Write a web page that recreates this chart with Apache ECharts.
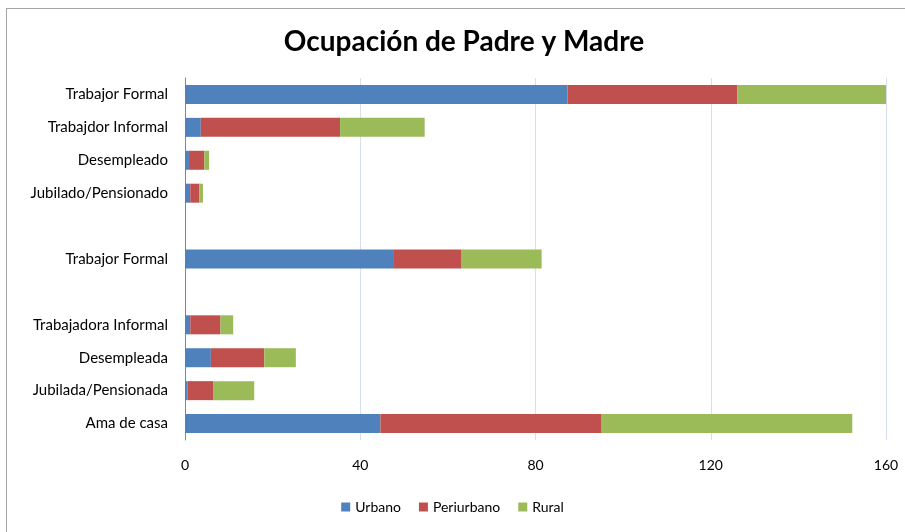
<!DOCTYPE html>
<html>
<head>
<meta charset="utf-8">
<title>Ocupación de Padre y Madre</title>
<script src="https://cdn.jsdelivr.net/npm/echarts@6/dist/echarts.min.js"></script>
<style>
  html, body { margin: 0; padding: 0; background: #fff; }
  #frame {
    position: absolute; left: 6px; top: 8px; width: 910px; height: 540px;
    border: 1px solid #a6a6a6; box-sizing: border-box;
  }
  #chart { position: absolute; left: 0; top: 0; width: 905px; height: 532px; }
</style>
</head>
<body>
<div id="frame"></div>
<div id="chart"></div>
<script>
  // categorias (de arriba hacia abajo), las vacias separan padre y madre
  var categories = ['Trabajor Formal', 'Trabajdor Informal', 'Desempleado', 'Jubilado/Pensionado', '',
    'Trabajor Formal', '', 'Trabajadora Informal', 'Desempleada', 'Jubilada/Pensionada', 'Ama de casa'];
  var urbano = [87.3, 3.6, 0.9, 1.2, null, 47.5, null, 1.2, 5.9, 0.6, 44.6];
  var periurbano = [38.8, 31.8, 3.5, 2.1, null, 15.5, null, 6.9, 12.2, 5.8, 50.5];
  var rural = [34.3, 19.3, 1.1, 0.8, null, 18.4, null, 2.9, 7.2, 9.4, 57.2];
  var xTicks = [0, 40, 80, 120, 160];

  var font = 'Lato';
  var chart = echarts.init(document.getElementById('chart'));

  function itemBar(name, data, color) {
    return {
      name: name,
      type: 'bar',
      stack: 'total',
      barWidth: 19,
      itemStyle: { color: color },
      data: data
    };
  }

  var option = {
    animation: false,
    textStyle: { fontFamily: font },
    title: {
      text: 'Ocupación de Padre y Madre',
      left: 459,
      textAlign: 'center',
      top: 23,
      textStyle: { fontFamily: font, fontSize: 28, fontWeight: 'bold', color: '#000' }
    },
    legend: {
      bottom: 13,
      left: 'center',
      itemWidth: 9,
      itemHeight: 9,
      itemGap: 18,
      icon: 'rect',
      textStyle: { fontFamily: font, fontSize: 14, color: '#000' },
      data: ['Urbano', 'Periurbano', 'Rural']
    },
    grid: { left: 185, right: 19, top: 78, bottom: 92, containLabel: false },
    xAxis: {
      type: 'value',
      min: xTicks[0],
      max: xTicks[xTicks.length - 1],
      interval: 40,
      axisLine: { show: false },
      axisTick: { show: false },
      axisLabel: { margin: 18, fontSize: 14, color: '#000', fontFamily: font },
      splitLine: { lineStyle: { color: '#d7dfee', width: 1 } }
    },
    yAxis: {
      type: 'category',
      inverse: true,
      data: categories,
      axisLine: { lineStyle: { color: '#868686', width: 1 } },
      axisTick: { show: false },
      axisLabel: { margin: 17, fontSize: 15, color: '#000', fontFamily: font }
    },
    series: [
      itemBar('Urbano', urbano, '#4f81bd'),
      itemBar('Periurbano', periurbano, '#c0504d'),
      itemBar('Rural', rural, '#9bbb59')
    ]
  };

  chart.setOption(option);
</script>
</body>
</html>
